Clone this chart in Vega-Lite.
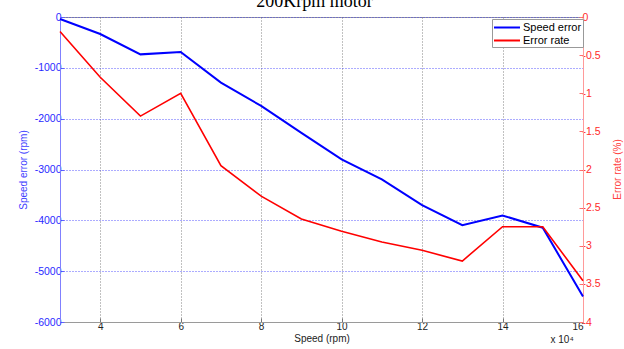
{
  "$schema": "https://vega.github.io/schema/vega-lite/v6.json",
  "width": 523,
  "height": 305,
  "autosize": {"type": "none"},
  "padding": {"left": 60, "top": 17, "right": 41, "bottom": 27},
  "background": "white",
  "title": {
    "text": "200Krpm motor",
    "font": "Liberation Serif",
    "fontSize": 18,
    "fontWeight": "normal",
    "color": "#000000",
    "anchor": "middle",
    "frame": "group",
    "baseline": "alphabetic",
    "offset": 10,
    "dy": 23,
    "dx": -7
  },
  "config": {
    "view": {"stroke": "#9a9a9a", "strokeWidth": 1},
    "font": "Liberation Sans"
  },
  "data": {
    "values": [
      {"speed": 3, "speed_error": -40, "error_rate": -0.19},
      {"speed": 4, "speed_error": -335, "error_rate": -0.79},
      {"speed": 5, "speed_error": -735, "error_rate": -1.3},
      {"speed": 6, "speed_error": -690, "error_rate": -1.0},
      {"speed": 7, "speed_error": -1290, "error_rate": -1.95},
      {"speed": 8, "speed_error": -1750, "error_rate": -2.35},
      {"speed": 9, "speed_error": -2280, "error_rate": -2.65},
      {"speed": 10, "speed_error": -2800, "error_rate": -2.81},
      {"speed": 11, "speed_error": -3195, "error_rate": -2.95},
      {"speed": 12, "speed_error": -3700, "error_rate": -3.06},
      {"speed": 13, "speed_error": -4095, "error_rate": -3.2},
      {"speed": 14, "speed_error": -3905, "error_rate": -2.75},
      {"speed": 15, "speed_error": -4145, "error_rate": -2.75},
      {"speed": 16, "speed_error": -5500, "error_rate": -3.46}
    ]
  },
  "layer": [
    {
      "mark": {"type": "line", "strokeWidth": 2, "clip": false},
      "encoding": {
        "x": {
          "field": "speed",
          "type": "quantitative",
          "scale": {"domain": [3, 16], "nice": false, "zero": false},
          "axis": {
            "title": "Speed (rpm)",
            "values": [4, 6, 8, 10, 12, 14, 16],
            "grid": true,
            "gridColor": "#777777",
            "gridDash": [1, 2],
            "gridOpacity": 0.9,
            "domainColor": "#9a9a9a",
            "tickColor": "#777777",
            "tickSize": -4,
            "labelPadding": 3,
            "labelColor": "#222222",
            "labelFontSize": 10,
            "labelFont": "Liberation Sans",
            "titleFont": "Liberation Sans",
            "titleFontSize": 10,
            "titleFontWeight": "normal",
            "titleColor": "#222222",
            "titlePadding": 2
          }
        },
        "y": {
          "field": "speed_error",
          "type": "quantitative",
          "scale": {"domain": [-6000, 0], "nice": false},
          "axis": {
            "orient": "left",
            "title": "Speed error (rpm)",
            "values": [0, -1000, -2000, -3000, -4000, -5000, -6000],
            "labelExpr": "'' + datum.value",
            "grid": true,
            "gridColor": "#3030ff",
            "gridDash": [1, 2],
            "gridOpacity": 0.8,
            "domainColor": "#8080ff",
            "tickColor": "#6060ff",
            "tickSize": -4,
            "labelPadding": 3,
            "labelColor": "#2a2aff",
            "labelFontSize": 10.5,
            "labelFont": "Liberation Sans",
            "titleFont": "Liberation Sans",
            "titleFontSize": 10,
            "titleFontWeight": "normal",
            "titleColor": "#4040ff",
            "titlePadding": 6
          }
        },
        "color": {
          "datum": "Speed error",
          "type": "nominal",
          "scale": {"domain": ["Speed error", "Error rate"], "range": ["#0000ff", "#ff0000"]},
          "legend": {
            "title": null,
            "orient": "none",
            "legendX": 432,
            "legendY": 2,
            "direction": "vertical",
            "strokeColor": "#999999",
            "fillColor": "#ffffff",
            "padding": 1,
            "symbolType": "M-2,0H2",
            "symbolSize": 169,
            "symbolStrokeWidth": 2,
            "symbolOffset": 6.5,
            "labelFont": "Liberation Sans",
            "labelFontSize": 11,
            "labelColor": "#000000",
            "rowPadding": 0,
            "labelOffset": 8.5
          }
        }
      }
    },
    {
      "mark": {"type": "line", "strokeWidth": 1.6, "clip": false},
      "encoding": {
        "x": {"field": "speed", "type": "quantitative"},
        "y": {
          "field": "error_rate",
          "type": "quantitative",
          "scale": {"domain": [-4, 0], "nice": false},
          "axis": {
            "orient": "right",
            "title": "Error rate (%)",
            "titleAngle": 270,
            "titleX": 34,
            "titleY": 152,
            "titleAlign": "center",
            "titleBaseline": "middle",
            "values": [0, -0.5, -1, -1.5, -2, -2.5, -3, -3.5, -4],
            "labelExpr": "'' + datum.value",
            "grid": false,
            "domainColor": "#ff9a9a",
            "tickColor": "#ff7070",
            "tickSize": -4,
            "labelPadding": 3,
            "labelColor": "#ff2a2a",
            "labelFontSize": 10.5,
            "labelFont": "Liberation Sans",
            "titleFont": "Liberation Sans",
            "titleFontSize": 10,
            "titleFontWeight": "normal",
            "titleColor": "#ff4040"
          }
        },
        "color": {"datum": "Error rate", "type": "nominal"}
      }
    },
    {
      "data": {"values": [{"label": "x 10⁴"}]},
      "mark": {"type": "text", "fontSize": 10, "fontWeight": "normal", "color": "#222222", "font": "Liberation Sans", "clip": false},
      "encoding": {
        "x": {"datum": 15.48, "type": "quantitative"},
        "y": {"datum": -6360, "type": "quantitative", "scale": {"domain": [-6000, 0], "nice": false}, "axis": null},
        "text": {"field": "label", "type": "nominal"}
      }
    }
  ],
  "resolve": {"scale": {"y": "independent"}}
}
